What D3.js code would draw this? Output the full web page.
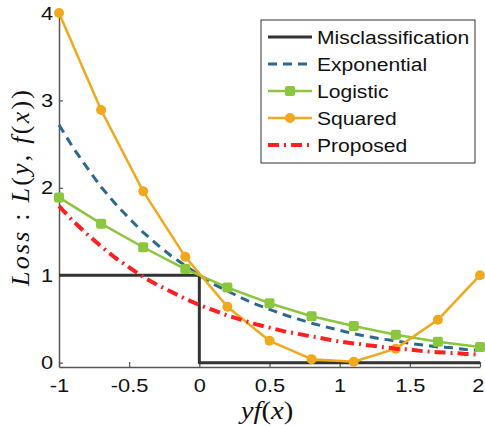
<!DOCTYPE html>
<html>
<head>
<meta charset="utf-8">
<script src="https://cdn.jsdelivr.net/npm/d3@7"></script>
<style>
  body { margin: 0; background: #fff; }
  svg { display: block; }
</style>
</head>
<body>
<svg width="485" height="428"></svg>
<script>
// data
let missX = [-1, 0, 0, 2]
let missY = [1, 1, 0, 0]

let smoothX = [-1, -0.9, -0.8, -0.7, -0.6, -0.5, -0.4, -0.3, -0.2, -0.1, 0,
               0.1, 0.2, 0.3, 0.4, 0.5, 0.6, 0.7, 0.8, 0.9, 1,
               1.1, 1.2, 1.3, 1.4, 1.5, 1.6, 1.7, 1.8, 1.9, 2]
let expY = [2.72, 2.46, 2.23, 2.01, 1.82, 1.65, 1.49, 1.35, 1.22, 1.11, 1,
            0.90, 0.82, 0.74, 0.67, 0.61, 0.55, 0.50, 0.45, 0.41, 0.37,
            0.33, 0.30, 0.27, 0.25, 0.22, 0.20, 0.18, 0.17, 0.15, 0.14]
let propY = [1.79, 1.62, 1.47, 1.33, 1.20, 1.09, 0.98, 0.89, 0.81, 0.73, 0.66,
             0.60, 0.54, 0.49, 0.44, 0.40, 0.36, 0.33, 0.30, 0.27, 0.24,
             0.22, 0.20, 0.18, 0.16, 0.15, 0.13, 0.12, 0.11, 0.10, 0.09]

let markX = [-1, -0.7, -0.4, -0.1, 0.2, 0.5, 0.8, 1.1, 1.4, 1.7, 2]
let logY = [1.89, 1.59, 1.32, 1.07, 0.86, 0.68, 0.53, 0.42, 0.32, 0.24, 0.18]
let sqY = [4, 2.89, 1.96, 1.21, 0.64, 0.25, 0.04, 0.01, 0.16, 0.49, 1]

let xTicks = [-1, -0.5, 0, 0.5, 1, 1.5, 2]
let yTicks = [0, 1, 2, 3, 4]
let legendNames = ['Misclassification', 'Exponential', 'Logistic', 'Squared', 'Proposed']

let stretch = 'scale(1.15,1)'
let svg = d3.select('svg')

let xScale = d3.scaleLinear().domain([-1, 2]).range([59, 480])
let yScale = d3.scaleLinear().domain([-0.05, 4]).range([367, 13])

let xAxis = d3.axisBottom(xScale)
              .tickValues(xTicks)
              .tickFormat(d => String(d))
              .tickSizeInner(-5)
              .tickSizeOuter(0)
              .tickPadding(12)

let yAxis = d3.axisLeft(yScale)
              .tickValues(yTicks)
              .tickFormat(d => String(d))
              .tickSizeInner(-4)
              .tickSizeOuter(0)
              .tickPadding(5)

let gx = svg.append('g')
    .attr('transform', `translate(0, ${yScale.range()[0]})`)
    .call(xAxis)
let gy = svg.append('g')
    .attr('transform', `translate(${xScale.range()[0]}, 0)`)
    .call(yAxis)

for (let g of [gx, gy]) {
  g.select('.domain').attr('stroke', '#555').attr('stroke-width', 1.5)
  g.selectAll('.tick line').attr('stroke', '#555').attr('stroke-width', 1.2)
  g.selectAll('.tick text')
    .attr('fill', '#111')
    .style('font-family', '"Liberation Sans", Arial, sans-serif')
    .style('font-size', '19px')
    .attr('transform', stretch)
}
// keep the last x label inside the window
gx.selectAll('.tick text').filter(d => d === 2).attr('dx', -2)

let line = d3.line().x(d => xScale(d[0])).y(d => yScale(d[1]))
let zipped = (xs, ys) => xs.map((x, i) => [x, ys[i]])

let styles = [
  { color: '#333333', width: 3, dash: null, marker: null },
  { color: '#2b6a8c', width: 3, dash: '9,6', marker: null },
  { color: '#8cc63e', width: 2.5, dash: null, marker: 'square' },
  { color: '#f0a81c', width: 2.5, dash: null, marker: 'circle' },
  { color: '#ff1f1f', width: 4, dash: '11,5,2,5', marker: null }
]
let series = [
  zipped(missX, missY),
  zipped(smoothX, expY),
  zipped(markX, logY),
  zipped(markX, sqY),
  zipped(smoothX, propY)
]

let plot = svg.append('g')
series.forEach((pts, i) => {
  let s = styles[i]
  plot.append('path')
      .datum(pts)
      .attr('d', line)
      .attr('fill', 'none')
      .attr('stroke', s.color)
      .attr('stroke-width', s.width)
      .attr('stroke-dasharray', s.dash)
      .attr('stroke-linejoin', 'round')
  if (s.marker === 'square') {
    plot.selectAll(null)
      .data(pts)
      .enter()
      .append('rect')
        .attr('x', d => xScale(d[0]) - 5)
        .attr('y', d => yScale(d[1]) - 5)
        .attr('width', 10)
        .attr('height', 10)
        .attr('rx', 2)
        .attr('fill', s.color)
  } else if (s.marker === 'circle') {
    plot.selectAll(null)
      .data(pts)
      .enter()
      .append('circle')
        .attr('cx', d => xScale(d[0]))
        .attr('cy', d => yScale(d[1]))
        .attr('r', 5)
        .attr('fill', s.color)
  }
})

// legend
let legend = svg.append('g')
legend.append('rect')
    .attr('x', 261)
    .attr('y', 20)
    .attr('width', 214)
    .attr('height', 143)
    .attr('fill', '#fff')
    .attr('stroke', '#333')
    .attr('stroke-width', 1)

legendNames.forEach((name, i) => {
  let s = styles[i]
  let cy = 37 + i * 27
  legend.append('line')
      .attr('x1', 268).attr('x2', 312)
      .attr('y1', cy).attr('y2', cy)
      .attr('stroke', s.color)
      .attr('stroke-width', s.width)
      .attr('stroke-dasharray', s.dash)
  if (s.marker === 'square') {
    legend.append('rect')
        .attr('x', 285).attr('y', cy - 5)
        .attr('width', 10).attr('height', 10)
        .attr('rx', 2)
        .attr('fill', s.color)
  } else if (s.marker === 'circle') {
    legend.append('circle')
        .attr('cx', 290).attr('cy', cy)
        .attr('r', 5)
        .attr('fill', s.color)
  }
  legend.append('g')
      .attr('transform', `translate(317, ${cy}) scale(1.11,1)`)
    .append('text')
      .attr('dy', '0.36em')
      .style('font-family', '"Liberation Sans", Arial, sans-serif')
      .style('font-size', '19px')
      .attr('fill', '#111')
      .text(name)
})

// axis titles
let xTitle = svg.append('g')
    .attr('transform', `translate(267, 419) ${stretch}`)
  .append('text')
    .style('text-anchor', 'middle')
    .style('font-family', '"Liberation Serif", "Times New Roman", serif')
    .style('font-size', '25px')
    .attr('fill', '#111')
xTitle.append('tspan').style('font-style', 'italic').text('yf')
xTitle.append('tspan').text('(')
xTitle.append('tspan').style('font-style', 'italic').text('x')
xTitle.append('tspan').text(')')

let yTitle = svg.append('g')
    .attr('transform', `translate(29, 188) rotate(-90)`)
  .append('text')
    .style('text-anchor', 'middle')
    .style('font-family', '"Liberation Serif", "Times New Roman", serif')
    .style('font-size', '26px')
    .attr('fill', '#111')
    .attr('textLength', 196)
    .attr('lengthAdjust', 'spacing')
yTitle.append('tspan').style('font-style', 'italic').text('Loss')
yTitle.append('tspan').text(' : ')
yTitle.append('tspan').style('font-style', 'italic').text('L')
yTitle.append('tspan').text('(')
yTitle.append('tspan').style('font-style', 'italic').text('y')
yTitle.append('tspan').text(', ')
yTitle.append('tspan').style('font-style', 'italic').text('f')
yTitle.append('tspan').text('(')
yTitle.append('tspan').style('font-style', 'italic').text('x')
yTitle.append('tspan').text('))')
</script>
</body>
</html>
